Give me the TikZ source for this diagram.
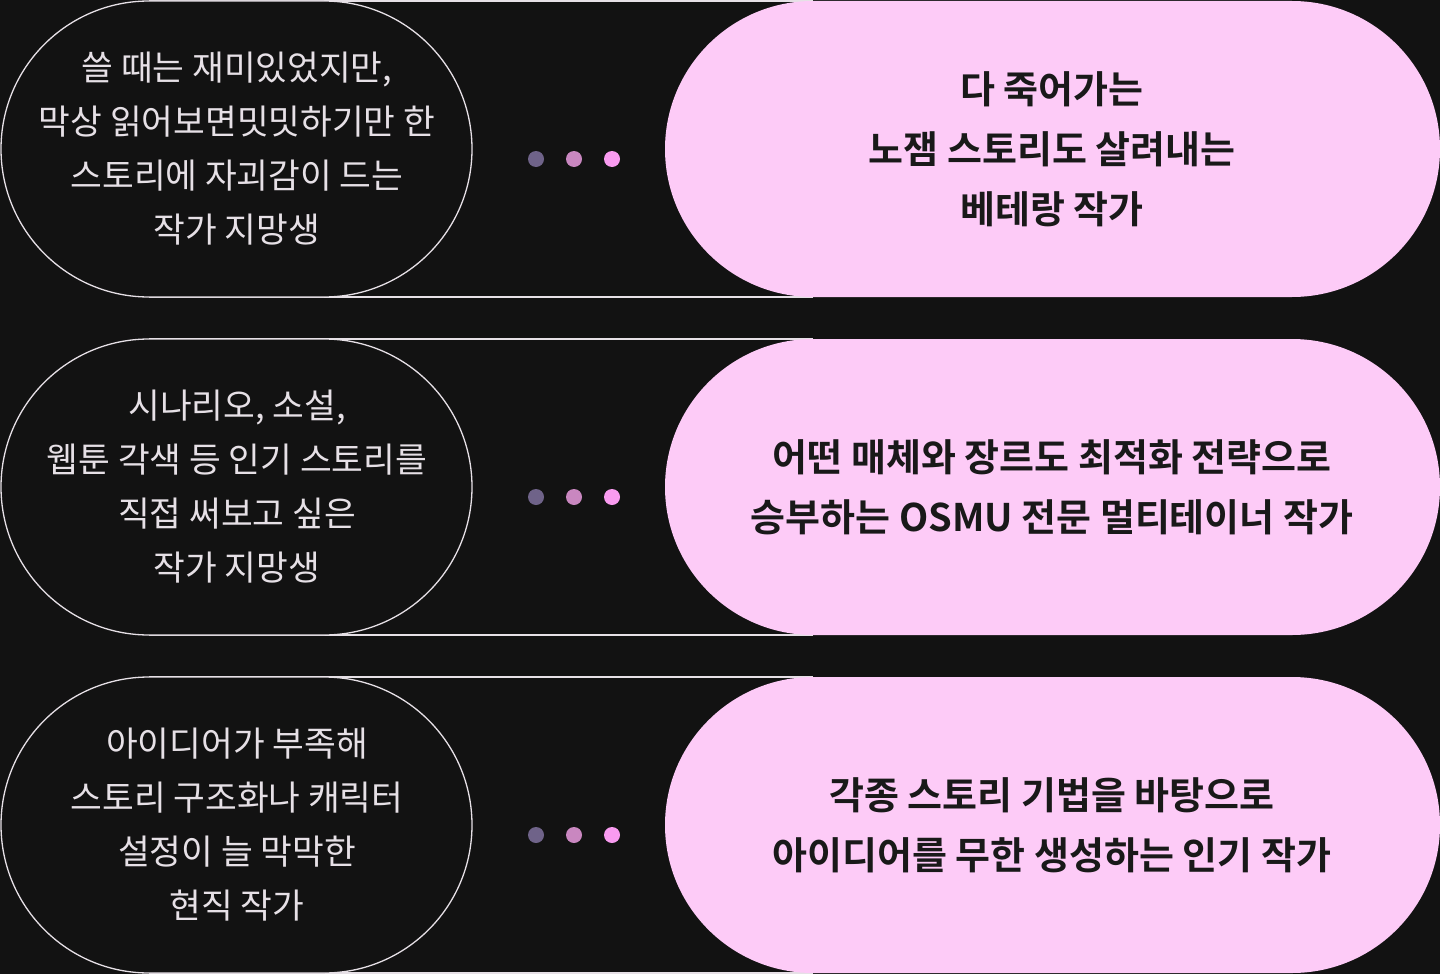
\documentclass[tikz,border=0pt]{standalone}
\usepackage{fontspec}
\newfontfamily\kr{Noto Sans CJK KR}
\newfontfamily\krb{Noto Sans CJK KR Bold}
\definecolor{bg}{HTML}{121212}
\definecolor{pk}{HTML}{FDCBF7}
\definecolor{ln}{HTML}{E6E0E6}
\definecolor{d1}{HTML}{6F6389}
\definecolor{d2}{HTML}{C987C0}
\definecolor{d3}{HTML}{F99BF0}
\begin{document}
\begin{tikzpicture}[x=1pt,y=-1pt,
 lefttxt/.style={font=\kr\fontsize{34.5}{54}\selectfont,text=ln,align=center},
 righttxt/.style={font=\krb\fontsize{38}{60}\selectfont,text=black!90,align=center},
 dot/.style={circle,inner sep=0pt,minimum size=16pt}]
\fill[bg] (0,0) rectangle (1440,974);
\useasboundingbox (0,0) rectangle (1440,974);
\foreach \t/\a/\b [count=\i] in {1/{쓸 때는 재미있었지만,\\막상 읽어보면밋밋하기만 한\\스토리에 자괴감이 드는\\작가 지망생}/{다 죽어가는\\노잼 스토리도 살려내는\\베테랑 작가},
 339/{시나리오, 소설,\\웹툰 각색 등 인기 스토리를\\직접 써보고 싶은\\작가 지망생}/{어떤 매체와 장르도 최적화 전략으로\\승부하는 OSMU 전문 멀티테이너 작가},
 677/{아이디어가 부족해\\스토리 구조화나 캐릭터\\설정이 늘 막막한\\현직 작가}/{각종 스토리 기법을 바탕으로\\아이디어를 무한 생성하는 인기 작가}}{
 \pgfmathsetmacro\bt{\t+296}
 \pgfmathsetmacro\mid{\t+148}
 \draw[ln,line width=1.3pt] (149,\t) -- (813,\t);
 \draw[ln,line width=1.3pt] (149,\bt) -- (813,\bt);
 \fill[pk,rounded corners=148pt] (665,\t) rectangle (1440,\bt);
 \draw[ln,line width=1.3pt,fill=bg,rounded corners=148pt] (1,\t) rectangle (472,\bt);
 \node[lefttxt] (l\i) at (237,\mid) {\a};
 \node[righttxt] (r\i) at (1052,\mid) {\b};
 \node[dot,fill=d1] (da\i) at (536,\mid+10) {};
 \node[dot,fill=d2] (db\i) at (574,\mid+10) {};
 \node[dot,fill=d3] (dc\i) at (612,\mid+10) {};
}
\end{tikzpicture}
\end{document}
